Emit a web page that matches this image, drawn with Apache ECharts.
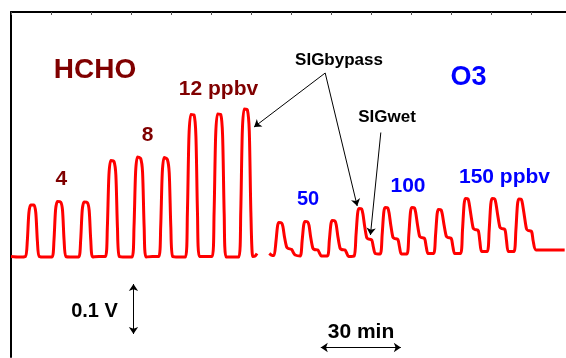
<!DOCTYPE html>
<html>
<head>
<meta charset="utf-8">
<script src="https://cdn.jsdelivr.net/npm/echarts@6/dist/echarts.min.js"></script>
<style>html,body{margin:0;padding:0;background:#fff}#c{width:566px;height:358px}</style>
</head>
<body>
<div id="c"></div>
<script>
// time in minutes, signal in mV (relative to baseline)
var hchoTrace = [
  [0,1],[3,0],
  [5.4,1],[6.1,31],[6.7,88],[7.4,104],[8.6,104],[9.3,88],[9.9,31],[10.6,1],[13,0],
  [15.4,0],[16.1,33],[16.7,94],[17.4,111],[18.6,110],[19.3,94],[19.9,33],[20.6,1],[23,0],
  [25.4,0],[26.1,33],[26.7,94],[27.4,110],[28.6,109],[29.3,93],[29.9,33],[30.6,0],[33,1],
  [35.4,1],[36.1,58],[36.7,164],[37.4,193],[38.6,191],[39.3,164],[39.9,58],[40.6,1],[43,0],
  [45.4,0],[46.1,60],[46.7,170],[47.4,200],[48.6,197],[49.3,170],[49.9,60],[50.6,0],[53,1],
  [55.4,1],[56.1,60],[56.7,169],[57.4,199],[58.6,195],[59.3,168],[59.9,60],[60.6,1],[63,0],
  [65.4,0],[66.1,86],[66.7,242],[67.4,285],[68.6,284],[69.3,242],[69.9,86],[70.6,1],[73,1],
  [75.4,1],[76.1,86],[76.7,243],[77.4,286],[78.6,285],[79.3,243],[79.9,86],[80.6,0],[83,0],
  [85.4,0],[86.1,89],[86.7,252],[87.4,296],[88.6,294],[89.3,252],[89.9,89],[90.6,1],[91.5,2],[92.2,7]
];
var o3Trace = [
  [96.8,7],[98.0,3],
  [98.6,3],[99.3,31],[99.9,62],[100.4,69],[101.4,68],[101.9,61],[102.5,40],[103.3,20],[103.9,17],[105.2,15],[105.8,9],[106.5,4],
  [108.4,2],[109.1,32],[109.7,64],[110.2,71],[111.2,70],[111.7,63],[112.3,40],[113.1,18],[113.7,15],[115.0,14],[115.6,8],[116.3,2],
  [118.6,2],[119.3,33],[119.9,66],[120.4,73],[121.4,72],[121.9,64],[122.5,41],[123.3,18],[123.9,15],[125.2,14],[125.8,8],[126.5,1],
  [128.6,2],[129.3,44],[129.9,87],[130.4,97],[131.4,96],[131.9,86],[132.5,63],[133.3,39],[133.9,36],[135.2,34],[135.8,20],[136.5,7],
  [138.4,6],[139.1,45],[139.7,89],[140.2,99],[141.2,98],[141.7,88],[142.3,65],[143.1,40],[143.7,37],[145.0,35],[145.6,20],[146.3,6],
  [148.4,6],[149.1,45],[149.7,89],[150.2,99],[151.2,98],[151.7,88],[152.3,66],[153.1,42],[153.7,39],[155.0,37],[155.6,21],[156.3,7],
  [158.4,7],[159.1,43],[159.7,86],[160.2,95],[161.2,94],[161.7,84],[162.3,64],[163.1,42],[163.7,39],[165.0,37],[165.6,21],[166.3,7],
  [168.5,7],[169.2,53],[169.8,105],[170.3,117],[171.3,116],[171.8,104],[172.4,83],[173.2,58],[173.8,55],[175.1,53],[175.7,32],[176.4,11],
  [178.5,11],[179.2,53],[179.8,105],[180.3,117],[181.3,116],[181.8,105],[182.4,84],[183.2,60],[183.8,57],[185.1,55],[185.7,33],[186.4,11],
  [188.5,11],[189.2,52],[189.8,104],[190.3,116],[191.3,115],[191.8,103],[192.4,82],[193.2,56],[193.8,53],[195.1,51],[195.7,32],[196.8,14],
  [207.5,14]
];
// annotation arrows in data units [t, mV]
var sigBypassApex = [117.75, 368];
var sigBypassTips = [[91.1, 260], [129.75, 102]];
var sigWetLine = [[138.6, 249], [134.7, 44]];
var scaleV = [[45.9, -54], [45.9, -154]];      // 0.1 V
var scaleT = [[116.1, -181], [146.1, -181]];   // 30 min

var FONT = 'Liberation Sans, Arial, sans-serif';
var RED_DARK = '#800000', BLUE = '#0000ff';

function txt(text, x, y, size, color) {
  return {type:'text', x:x, y:y, style:{text:text, fill:color, font:'bold '+size+'px '+FONT, textAlign:'center', textVerticalAlign:'middle'}, z:10};
}

var lineData = [
  [{coord: sigBypassApex}, {coord: sigBypassTips[0]}],
  [{coord: sigBypassApex}, {coord: sigBypassTips[1]}],
  [{coord: sigWetLine[0]}, {coord: sigWetLine[1]}]
];
var dblData = [
  [{coord: scaleV[0]}, {coord: scaleV[1]}],
  [{coord: scaleT[0]}, {coord: scaleT[1]}]
];

var chart = echarts.init(document.getElementById('c'), null, {renderer:'canvas'});
chart.setOption({
  animation:false,
  backgroundColor:'#fff',
  grid:{left:11, right:0, top:12, bottom:1, containLabel:false},
  xAxis:{type:'value', position:'top', min:0, max:208, interval:15,
    axisLine:{show:true, onZero:false, lineStyle:{color:'#000', width:2}},
    axisTick:{show:true, inside:true, length:3, lineStyle:{color:'#555', width:1}},
    axisLabel:{show:false}, splitLine:{show:false}},
  yAxis:{type:'value', min:-200, max:490,
    axisLine:{show:true, onZero:false, lineStyle:{color:'#000', width:2}},
    axisTick:{show:false}, axisLabel:{show:false}, splitLine:{show:false}},
  series:[
    {type:'line', data:hchoTrace, showSymbol:false, smooth:0.25, lineStyle:{color:'#ff0000', width:3}, z:3},
    {type:'line', data:o3Trace, showSymbol:false, smooth:0.25, lineStyle:{color:'#ff0000', width:3}, z:3,
      markLine:{silent:true, symbol:['none','arrow'], symbolSize:7, label:{show:false},
        lineStyle:{color:'#000', width:1, type:'solid'}, emphasis:{disabled:true}, data:lineData}},
    {type:'line', data:[], markLine:{silent:true, symbol:['arrow','arrow'], symbolSize:7, label:{show:false},
        lineStyle:{color:'#000', width:1, type:'solid'}, emphasis:{disabled:true}, data:dblData}}
  ],
  graphic:[
    txt('HCHO', 95, 70, 28, RED_DARK),
    txt('12 ppbv', 218.5, 89, 21, RED_DARK),
    txt('8', 147.5, 135.5, 21, RED_DARK),
    txt('4', 61.3, 179, 21, RED_DARK),
    txt('O3', 468.5, 77.5, 27, BLUE),
    txt('50', 308, 199.7, 20, BLUE),
    txt('100', 408, 186.7, 21, BLUE),
    txt('150 ppbv', 504.5, 177.5, 21, BLUE),
    txt('SIGbypass', 339, 60.5, 17, '#000'),
    txt('SIGwet', 387, 117, 17, '#000'),
    txt('0.1 V', 94.5, 311, 20, '#000'),
    txt('30 min', 361, 332, 21, '#000')
  ]
});
</script>
</body>
</html>
